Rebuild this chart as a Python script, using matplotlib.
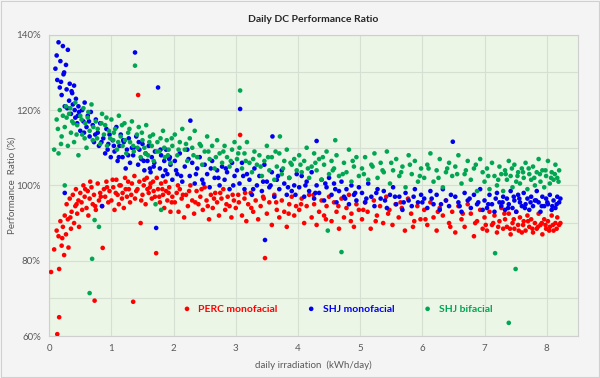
import matplotlib
matplotlib.use('Agg')

import matplotlib.pyplot as plt
from matplotlib.ticker import MultipleLocator, FuncFormatter

# PERC monofacial (daily irradiation kWh/day, performance ratio %)
perc_x = [
    0.03, 0.08, 0.12, 0.13, 0.15, 0.16, 0.16, 0.18, 0.2, 0.22,
    0.24, 0.25, 0.27, 0.28, 0.3, 0.31, 0.33, 0.35, 0.36, 0.38,
    0.4, 0.42, 0.43, 0.45, 0.47, 0.48, 0.5, 0.52, 0.53, 0.55,
    0.57, 0.6, 0.62, 0.63, 0.65, 0.68, 0.7, 0.72, 0.73, 0.75,
    0.78, 0.8, 0.82, 0.85, 0.86, 0.88, 0.9, 0.92, 0.95, 0.97,
    1.0, 1.03, 1.05, 1.08, 1.1, 1.12, 1.15, 1.18, 1.2, 1.22,
    1.25, 1.28, 1.3, 1.33, 1.35, 1.38, 1.4, 1.43, 1.45, 1.47,
    1.5, 1.52, 1.55, 1.57, 1.6, 1.62, 1.65, 1.67, 1.7, 1.72,
    1.75, 1.78, 1.8, 1.83, 1.85, 1.88, 1.9, 1.93, 1.95, 1.98,
    2.02, 2.05, 2.08, 2.1, 2.13, 2.17, 2.2, 2.23, 2.27, 2.3,
    2.33, 2.37, 2.4, 2.43, 2.47, 2.5, 2.53, 2.57, 2.6, 2.63,
    2.67, 2.7, 2.73, 2.77, 2.8, 2.83, 2.87, 2.9, 2.93, 2.97,
    3.0, 3.04, 3.07, 3.1, 3.14, 3.17, 3.2, 3.24, 3.28, 3.32,
    3.36, 3.4, 3.44, 3.47, 3.5, 3.54, 3.58, 3.62, 3.66, 3.7,
    3.74, 3.78, 3.82, 3.86, 3.9, 3.94, 3.97,
    4.02, 4.06, 4.1, 4.14, 4.18, 4.22, 4.26, 4.3, 4.34, 4.38,
    4.42, 4.46, 4.5, 4.54, 4.58, 4.62, 4.66, 4.7, 4.74, 4.78,
    4.82, 4.86, 4.9, 4.94, 4.98,
    5.03, 5.08, 5.12, 5.17, 5.22, 5.27, 5.32, 5.37, 5.42, 5.47,
    5.52, 5.57, 5.62, 5.67, 5.72, 5.77, 5.82, 5.87, 5.92, 5.97,
    6.03, 6.08, 6.13, 6.18, 6.23, 6.28, 6.33, 6.38, 6.43, 6.48,
    6.53, 6.58, 6.63, 6.68, 6.73, 6.78, 6.83, 6.88, 6.93, 6.97,
    7.0, 7.04, 7.08, 7.12, 7.16, 7.2, 7.24, 7.27, 7.3, 7.33,
    7.36, 7.39, 7.42, 7.45, 7.48, 7.51, 7.54, 7.57, 7.6, 7.63,
    7.66, 7.69, 7.72, 7.75, 7.78, 7.81, 7.84, 7.87, 7.9, 7.93,
    7.96, 7.99, 8.02, 8.05, 8.08, 8.11, 8.14, 8.17, 8.2, 8.22,
    0.21, 0.34, 0.44, 0.58, 0.66, 0.74, 0.83, 0.93, 1.02, 1.07,
    1.13, 1.17, 1.23, 1.27, 1.32, 1.37, 1.42, 1.48, 1.53, 1.58,
    1.63, 1.68, 1.73, 1.77, 1.82, 1.87, 1.92, 1.97, 2.07, 2.15,
    2.25, 2.35, 2.45, 2.55, 2.65, 2.75, 2.85, 2.95, 3.05, 3.15,
    3.25, 3.45, 3.65, 3.85, 4.05, 4.25, 4.45, 4.65, 4.85, 5.05,
    5.25, 5.45, 5.65, 5.85, 6.05, 6.25, 6.45, 6.65, 6.85, 7.02,
    7.14, 7.22, 7.32, 7.41, 7.47, 7.55, 7.62, 7.7, 7.77, 7.86,
    7.92, 7.98, 8.04, 8.1, 8.16,
]
perc_pr = [
    77.0, 83.0, 88.0, 60.5, 86.5, 65.0, 77.8, 90.5, 84.0, 89.0,
    81.5, 92.0, 87.0, 95.0, 91.0, 83.5, 96.5, 88.5, 93.0, 97.5,
    90.0, 94.5, 99.0, 92.5, 96.0, 89.0, 98.0, 95.5, 93.5, 100.0,
    97.0, 94.0, 98.5, 92.0, 96.5, 99.5, 95.0, 97.5, 69.4, 93.5,
    100.5, 96.0, 98.0, 94.5, 83.4, 99.0, 97.0, 101.0, 95.5, 98.5,
    96.0, 99.5, 93.5, 101.5, 97.5, 95.0, 100.0, 98.0, 94.0, 102.0,
    97.0, 99.0, 95.5, 100.5, 69.1, 96.5, 98.5, 124.0, 101.0, 90.0,
    97.5, 100.0, 95.0, 102.0, 98.0, 99.5, 96.5, 101.0, 97.0, 82.0,
    99.0, 95.5, 100.5, 97.5, 94.0, 98.5, 96.0, 99.5, 93.0, 97.0,
    95.5, 98.0, 93.0, 99.0, 96.5, 91.5, 97.5, 94.5, 100.0, 96.0,
    92.5, 98.5, 95.0, 97.0, 93.5, 99.5, 96.0, 91.0, 97.5, 94.0,
    98.0, 95.5, 92.0, 96.5, 99.0, 93.5, 97.0, 94.5, 91.5, 96.0,
    94.0, 97.5, 113.4, 92.0, 96.5, 90.5, 95.0, 98.0, 93.0, 96.0,
    91.0, 94.5, 97.0, 80.7, 92.5, 95.5, 89.5, 97.5, 93.5, 91.5,
    96.0, 93.0, 89.0, 95.0, 97.0, 92.0, 94.5,
    93.5, 96.5, 90.0, 94.5, 97.5, 91.5, 95.0, 89.5, 93.0, 96.0,
    92.0, 94.5, 97.0, 90.5, 95.5, 93.0, 88.5, 96.5, 91.5, 94.0,
    97.5, 92.5, 89.0, 95.0, 93.5,
    91.0, 95.5, 93.0, 88.5, 96.0, 92.0, 94.5, 90.0, 97.0, 93.5,
    89.5, 95.0, 91.5, 94.0, 88.0, 96.5, 92.5, 90.5, 94.5, 91.0,
    93.5, 89.5, 95.5, 91.5, 88.0, 94.0, 92.0, 96.0, 90.0, 93.0,
    87.5, 94.5, 91.0, 89.0, 95.0, 92.5, 86.5, 90.5, 93.5, 88.5,
    91.5, 88.0, 93.0, 89.5, 92.0, 87.5, 90.5, 94.0, 88.5, 91.0,
    89.0, 92.5, 87.0, 90.0, 88.5, 93.0, 89.5, 91.5, 87.5, 90.5,
    88.0, 92.0, 89.0, 91.0, 87.5, 90.0, 88.5, 92.5, 89.5, 87.0,
    91.0, 88.5, 90.5, 89.0, 92.0, 88.0, 90.0, 91.5, 89.5, 90.0,
    86.0, 91.5, 95.0, 99.0, 101.0, 94.5, 97.0, 99.5, 101.5, 98.0,
    100.0, 96.5, 99.0, 101.0, 97.5, 102.5, 99.0, 96.0, 101.5, 99.0,
    100.5, 98.5, 102.0, 97.0, 99.0, 101.0, 98.0, 95.5, 100.0, 97.5,
    98.5, 95.5, 99.0, 94.5, 96.5, 98.0, 95.0, 97.5, 95.5, 98.0,
    94.0, 96.5, 95.5, 92.5, 95.0, 97.5, 91.0, 94.5, 90.5, 93.5,
    90.5, 92.5, 95.5, 89.0, 91.0, 93.0, 89.0, 92.5, 90.0, 89.5,
    90.0, 89.0, 92.5, 88.5, 91.0, 88.0, 89.5, 90.5, 88.5, 89.0,
    90.0, 89.5, 88.0, 89.5, 88.5,
]

# SHJ monofacial
shj_mono_x = [
    0.1, 0.13, 0.15, 0.17, 0.18, 0.2, 0.22, 0.23, 0.25, 0.25,
    0.27, 0.28, 0.3, 0.32, 0.33, 0.35, 0.37, 0.38, 0.4, 0.42,
    0.43, 0.45, 0.47, 0.48, 0.5,
    0.53, 0.55, 0.57, 0.6, 0.62, 0.65, 0.67, 0.7, 0.72, 0.75,
    0.78, 0.8, 0.82, 0.85, 0.87, 0.9, 0.92, 0.95, 0.97, 0.99,
    1.02, 1.05, 1.08, 1.1, 1.13, 1.15, 1.18, 1.2, 1.23, 1.25,
    1.28, 1.3, 1.33, 1.35, 1.38, 1.4, 1.43, 1.45, 1.48, 1.5,
    1.53, 1.55, 1.58, 1.6, 1.63, 1.65, 1.68, 1.7, 1.72, 1.75,
    1.78, 1.8, 1.83, 1.85, 1.88, 1.9, 1.93, 1.95, 1.98,
    2.02, 2.06, 2.1, 2.14, 2.18, 2.22, 2.26, 2.27, 2.3, 2.34,
    2.38, 2.42, 2.46, 2.5, 2.54, 2.58, 2.62, 2.66, 2.7, 2.74,
    2.78, 2.82, 2.86, 2.9, 2.94, 2.98,
    3.02, 3.06, 3.07, 3.1, 3.14, 3.18, 3.22, 3.26, 3.3, 3.34,
    3.38, 3.42, 3.46, 3.47, 3.5, 3.54, 3.58, 3.59, 3.62, 3.66,
    3.7, 3.74, 3.78, 3.82, 3.86, 3.9, 3.94, 3.98,
    4.02, 4.06, 4.1, 4.14, 4.18, 4.22, 4.26, 4.3, 4.3, 4.34,
    4.38, 4.42, 4.46, 4.5, 4.54, 4.58, 4.62, 4.66, 4.7, 4.74,
    4.78, 4.82, 4.86, 4.9, 4.94, 4.98,
    5.03, 5.08, 5.13, 5.18, 5.23, 5.28, 5.33, 5.38, 5.43, 5.48,
    5.53, 5.58, 5.63, 5.68, 5.73, 5.78, 5.83, 5.88, 5.93, 5.98,
    6.03, 6.08, 6.13, 6.18, 6.23, 6.28, 6.33, 6.38, 6.43, 6.49,
    6.53, 6.58, 6.63, 6.68, 6.73, 6.78, 6.83, 6.88, 6.93, 6.97,
    7.0, 7.04, 7.08, 7.12, 7.16, 7.2, 7.24, 7.27, 7.3, 7.33,
    7.36, 7.39, 7.42, 7.45, 7.48, 7.51, 7.54, 7.57, 7.6, 7.63,
    7.66, 7.69, 7.72, 7.75, 7.78, 7.81, 7.84, 7.87, 7.9, 7.93,
    7.96, 7.99, 8.02, 8.05, 8.08, 8.11, 8.14, 8.17, 8.2, 8.22,
    0.12, 0.19, 0.24, 0.29, 0.36, 0.41, 0.46, 0.56, 0.64, 0.74,
    0.84, 0.94, 1.04, 1.12, 1.19, 1.27, 1.36, 1.44, 1.52, 1.62,
    1.69, 1.79, 1.87, 1.94, 2.04, 2.12, 2.24, 2.36, 2.48, 2.6,
    2.72, 2.84, 2.96, 3.12, 3.28, 3.44, 3.56, 3.68, 3.84, 3.96,
    4.12, 4.28, 4.44, 4.6, 4.76, 4.92, 5.1, 5.26, 5.4, 5.56,
    5.7, 5.86, 6.0, 6.15, 6.3, 6.46, 6.6, 6.76, 6.9, 7.06,
    7.18, 7.29, 7.38, 7.47, 7.56, 7.65, 7.74, 7.83, 7.92, 8.01,
    8.09, 8.16,
]
shj_mono_pr = [
    131.0, 128.0, 138.0, 126.0, 133.0, 124.0, 137.0, 129.5, 98.0, 121.0,
    132.0, 125.5, 136.0, 122.5, 127.0, 119.0, 124.5, 121.5, 126.5, 118.0,
    123.0, 116.5, 121.0, 119.5, 114.5,
    120.0, 117.0, 122.0, 115.5, 118.5, 113.0, 119.5, 116.0, 111.5, 117.5,
    114.0, 110.5, 116.5, 94.5, 112.5, 108.5, 115.0, 111.0, 113.5, 107.5,
    112.0, 109.0, 115.5, 106.5, 110.5, 113.5, 107.5, 111.5, 104.5, 109.5,
    112.5, 106.0, 110.0, 108.0, 135.3, 113.0, 105.5, 109.5, 107.0, 111.0,
    104.0, 108.5, 106.5, 110.5, 103.5, 107.5, 105.0, 109.0, 88.7, 126.0,
    104.5, 108.0, 102.5, 106.5, 109.5, 103.0, 107.0, 105.5, 101.5,
    106.5, 103.0, 108.5, 101.0, 105.0, 109.5, 102.5, 117.2, 106.0, 100.5,
    104.5, 107.5, 101.5, 105.5, 103.0, 99.5, 106.5, 102.0, 104.0, 100.0,
    105.0, 101.5, 103.5, 99.0, 106.0, 102.5,
    104.0, 100.5, 120.3, 106.0, 99.0, 103.0, 101.5, 97.5, 104.5, 100.0,
    102.5, 98.5, 105.5, 85.5, 101.0, 99.5, 103.5, 113.0, 97.0, 101.5,
    99.0, 104.0, 100.5, 97.5, 102.0, 98.5, 100.0, 103.0,
    99.5, 102.5, 97.0, 101.0, 98.5, 103.5, 96.5, 100.0, 111.8, 98.0,
    101.5, 96.0, 99.5, 102.0, 97.5, 100.5, 95.5, 98.5, 101.0, 97.0,
    99.0, 95.0, 100.0, 97.5, 96.0, 99.5,
    98.0, 95.5, 100.5, 97.0, 94.5, 99.0, 96.5, 98.5, 94.0, 97.5,
    99.5, 95.0, 97.0, 93.5, 98.0, 96.0, 94.5, 99.0, 95.5, 97.5,
    96.5, 94.0, 98.5, 95.0, 97.5, 93.5, 99.0, 96.0, 94.5, 111.6,
    97.0, 95.5, 93.0, 98.0, 96.0, 94.0, 97.5, 95.0, 99.0, 93.5,
    96.0, 94.0, 97.5, 95.0, 93.0, 98.0, 95.5, 94.5, 97.0, 93.5,
    96.5, 95.0, 98.5, 94.0, 96.0, 93.0, 97.5, 95.5, 94.5, 98.0,
    95.0, 96.5, 93.5, 97.0, 94.5, 96.0, 98.5, 95.5, 93.0, 97.0,
    94.5, 96.5, 95.0, 97.5, 93.5, 96.0, 94.0, 97.0, 95.5, 96.5,
    134.5, 127.5, 130.0, 120.5, 125.0, 120.0, 118.5, 114.0, 117.0, 113.5,
    111.5, 109.5, 110.5, 107.5, 112.0, 108.0, 110.0, 111.5, 106.5, 104.5,
    106.0, 109.5, 104.0, 107.5, 104.0, 102.5, 107.0, 103.0, 100.5, 104.5,
    102.0, 104.5, 100.0, 102.5, 99.0, 101.0, 100.0, 102.5, 99.5, 97.5,
    100.0, 98.0, 100.5, 99.0, 96.5, 98.0, 96.5, 98.0, 96.0, 97.0,
    95.5, 97.0, 95.5, 96.5, 95.0, 97.5, 94.5, 96.5, 95.5, 95.0,
    96.5, 95.5, 94.0, 97.0, 96.5, 94.0, 95.5, 96.0, 94.5, 95.5,
    94.5, 95.0,
]

# SHJ bifacial
shj_bi_x = [
    0.08, 0.12, 0.15, 0.17, 0.2, 0.22, 0.25, 0.25, 0.27, 0.3,
    0.32, 0.35, 0.37, 0.4, 0.42, 0.45, 0.47, 0.5,
    0.53, 0.55, 0.58, 0.6, 0.62, 0.65, 0.65, 0.68, 0.69, 0.7,
    0.73, 0.75, 0.78, 0.8, 0.82, 0.85, 0.88, 0.9, 0.93, 0.96,
    1.0, 1.03, 1.06, 1.09, 1.12, 1.15, 1.18, 1.21, 1.24, 1.27,
    1.3, 1.33, 1.36, 1.38, 1.41, 1.44, 1.47, 1.5, 1.53, 1.56,
    1.59, 1.62, 1.65, 1.68, 1.71, 1.74, 1.77, 1.8, 1.83, 1.86,
    1.89, 1.92, 1.95, 1.98,
    2.02, 2.06, 2.1, 2.14, 2.18, 2.22, 2.26, 2.3, 2.34, 2.38,
    2.42, 2.46, 2.5, 2.54, 2.58, 2.62, 2.66, 2.7, 2.74, 2.78,
    2.82, 2.86, 2.9, 2.94, 2.98,
    3.02, 3.06, 3.07, 3.1, 3.14, 3.18, 3.22, 3.26, 3.3, 3.34,
    3.38, 3.42, 3.46, 3.5, 3.54, 3.58, 3.62, 3.66, 3.7, 3.71,
    3.74, 3.78, 3.82, 3.86, 3.9, 3.94, 3.98,
    4.02, 4.06, 4.1, 4.14, 4.18, 4.22, 4.26, 4.3, 4.34, 4.38,
    4.42, 4.46, 4.48, 4.5, 4.54, 4.58, 4.6, 4.62, 4.66, 4.7,
    4.74, 4.78, 4.82, 4.86, 4.9, 4.94, 4.98,
    5.03, 5.08, 5.13, 5.18, 5.23, 5.28, 5.33, 5.38, 5.43, 5.48,
    5.53, 5.58, 5.63, 5.68, 5.73, 5.78, 5.83, 5.88, 5.93, 5.98,
    6.03, 6.08, 6.13, 6.18, 6.23, 6.28, 6.33, 6.38, 6.43, 6.48,
    6.53, 6.58, 6.63, 6.68, 6.73, 6.78, 6.83, 6.88, 6.93, 6.97,
    7.0, 7.04, 7.08, 7.12, 7.16, 7.17, 7.2, 7.24, 7.27, 7.3,
    7.33, 7.36, 7.39, 7.39, 7.42, 7.45, 7.48, 7.5, 7.51, 7.54,
    7.57, 7.6, 7.63, 7.66, 7.69, 7.72, 7.75, 7.78, 7.81, 7.84,
    7.87, 7.9, 7.93, 7.96, 7.99, 8.02, 8.05, 8.08, 8.11, 8.14,
    8.17, 8.2,
    0.14, 0.19, 0.28, 0.34, 0.39, 0.44, 0.52, 0.57, 0.63, 0.71,
    0.77, 0.84, 0.92, 0.98, 1.04, 1.11, 1.17, 1.22, 1.29, 1.35,
    1.42, 1.49, 1.55, 1.61, 1.67, 1.73, 1.79, 1.85, 1.91, 1.97,
    2.08, 2.2, 2.32, 2.44, 2.56, 2.68, 2.8, 2.92, 3.04, 3.16,
    3.28, 3.4, 3.52, 3.64, 3.76, 3.88, 4.04, 4.16, 4.28, 4.4,
    4.56, 4.72, 4.88, 5.06, 5.2, 5.36, 5.5, 5.66, 5.8, 5.96,
    6.1, 6.26, 6.4, 6.56, 6.7, 6.86, 7.06, 7.22, 7.34, 7.44,
    7.53, 7.62, 7.71, 7.8, 7.89, 7.98, 8.07, 8.13, 8.19,
]
shj_bi_pr = [
    109.5, 117.5, 108.5, 120.0, 113.0, 118.5, 100.0, 115.5, 121.0, 110.5,
    119.0, 114.0, 117.0, 111.5, 122.0, 116.0, 108.0, 118.5,
    113.5, 120.5, 116.5, 110.0, 118.0, 114.5, 71.4, 121.5, 80.5, 112.0,
    90.8, 117.0, 115.0, 89.0, 111.0, 119.0, 113.5, 116.0, 110.5, 114.5,
    117.5, 112.0, 115.0, 109.5, 118.5, 113.0, 110.5, 116.5, 108.5, 114.0,
    111.5, 117.0, 109.0, 131.8, 113.5, 115.5, 107.5, 112.0, 110.0, 116.0,
    108.0, 113.0, 110.5, 106.5, 95.0, 111.5, 109.0, 93.5, 114.5, 107.5,
    112.0, 109.5, 106.0, 110.5,
    113.5, 108.0, 111.5, 115.0, 109.5, 106.5, 112.5, 110.0, 114.5, 107.5,
    111.0, 105.5, 109.0, 113.0, 107.0, 110.5, 104.5, 112.0, 108.5, 106.0,
    110.5, 107.5, 105.0, 109.5, 111.5,
    107.0, 110.0, 125.2, 104.5, 108.5, 111.5, 106.0, 103.5, 109.0, 105.5,
    108.0, 102.5, 106.5, 110.5, 104.0, 107.5, 101.5, 105.0, 108.5, 113.0,
    103.0, 106.5, 109.5, 102.0, 105.5, 107.0, 104.0,
    108.0, 103.5, 106.5, 110.0, 102.0, 105.0, 108.5, 104.0, 107.0, 101.5,
    105.5, 109.0, 88.0, 103.0, 106.5, 104.5, 112.0, 108.0, 102.5, 82.3,
    106.0, 103.5, 109.5, 101.0, 105.0, 107.5, 102.5,
    104.5, 107.5, 101.5, 105.5, 108.5, 102.0, 106.0, 103.5, 109.0, 100.5,
    104.0, 107.0, 102.5, 105.0, 99.5, 108.0, 103.0, 106.5, 101.0, 104.5,
    102.0, 105.5, 108.5, 101.0, 104.0, 107.0, 99.5, 103.5, 106.0, 102.5,
    105.0, 108.0, 100.5, 103.0, 106.5, 101.5, 104.5, 98.5, 107.0, 103.5,
    101.0, 104.5, 99.0, 106.0, 102.5, 82.0, 100.0, 105.0, 103.0, 98.5,
    104.0, 101.5, 106.5, 63.5, 102.5, 99.5, 105.5, 77.8, 101.0, 103.5,
    100.5, 104.5, 102.0, 106.0, 99.0, 103.0, 101.5, 105.0, 100.0, 103.5,
    107.0, 101.0, 104.0, 99.5, 102.5, 106.5, 100.5, 103.5, 101.5, 105.5,
    102.0, 104.0,
    115.0, 111.0, 118.0, 120.5, 116.5, 113.5, 117.5, 112.5, 119.5, 115.5,
    112.5, 116.5, 118.0, 112.5, 114.0, 111.5, 116.0, 112.0, 115.0, 110.5,
    110.0, 114.0, 108.5, 111.5, 113.5, 109.0, 112.5, 110.0, 108.0, 112.5,
    109.5, 111.0, 108.0, 110.5, 109.0, 107.5, 109.0, 106.5, 108.5, 106.5,
    107.0, 105.0, 107.5, 109.0, 104.5, 106.0, 105.5, 104.5, 106.0, 107.5,
    104.0, 103.0, 106.5, 103.0, 105.0, 104.0, 106.0, 103.5, 105.5, 102.5,
    104.5, 102.0, 104.5, 103.0, 104.0, 105.5, 102.5, 101.5, 103.0, 104.5,
    102.5, 103.5, 104.5, 102.0, 103.0, 104.0, 102.0, 103.0, 101.0,
]

series = [
    ('PERC monofacial', perc_x, perc_pr, '#ff0000'),
    ('SHJ monofacial', shj_mono_x, shj_mono_pr, '#0000ee'),
    ('SHJ bifacial', shj_bi_x, shj_bi_pr, '#00a651'),
]

plt.rcParams['font.family'] = ['Lato', 'DejaVu Sans']

fig = plt.figure(figsize=(6, 3.78), dpi=100, facecolor='#f4f4f4')
ax = fig.add_axes([0.082, 0.111, 0.881, 0.797])
ax.set_facecolor('#ebf6e6')

for name, xs, ys, color in series:
    ax.scatter(xs, ys, s=11, color=color, edgecolors='none', label=name, zorder=3)

ax.set_xlim(0, 8.5)
ax.set_ylim(60, 140)
ax.xaxis.set_major_locator(MultipleLocator(1))
ax.yaxis.set_major_locator(MultipleLocator(20))
ax.yaxis.set_minor_locator(MultipleLocator(10))
ax.yaxis.set_major_formatter(FuncFormatter(lambda v, p: f'{v:.0f}%'))
ax.grid(True, which='both', color='#d6e0d2', linewidth=0.8, zorder=0)
ax.set_axisbelow(True)
ax.tick_params(which='both', length=0, labelsize=7, colors='#595959', pad=6)
for sp in ax.spines.values():
    sp.set_color('#cfcfcf')

ax.set_title('Daily DC Performance Ratio', fontsize=7.5, fontweight='bold', color='#262626', pad=9)
ax.set_xlabel('daily irradiation  (kWh/day)', fontsize=7, color='#595959', labelpad=5)
ax.set_ylabel('Performance  Ratio (%)', fontsize=7, color='#595959')
ax.yaxis.set_label_coords(-0.062, 0.5)

leg = ax.legend(loc='center', bbox_to_anchor=(0.54, 0.09), ncol=3, frameon=False,
                prop={'weight': 'bold', 'size': 7.5}, handletextpad=0.1,
                columnspacing=2.2, markerscale=1.0, labelcolor='markerfacecolor')

fig.patches.append(plt.Rectangle((0.002, 0.003), 0.996, 0.994, transform=fig.transFigure,
                                 fill=False, edgecolor='#d0d0d0', linewidth=0.8))

fig.savefig('out.png', dpi=100, facecolor=fig.get_facecolor())
